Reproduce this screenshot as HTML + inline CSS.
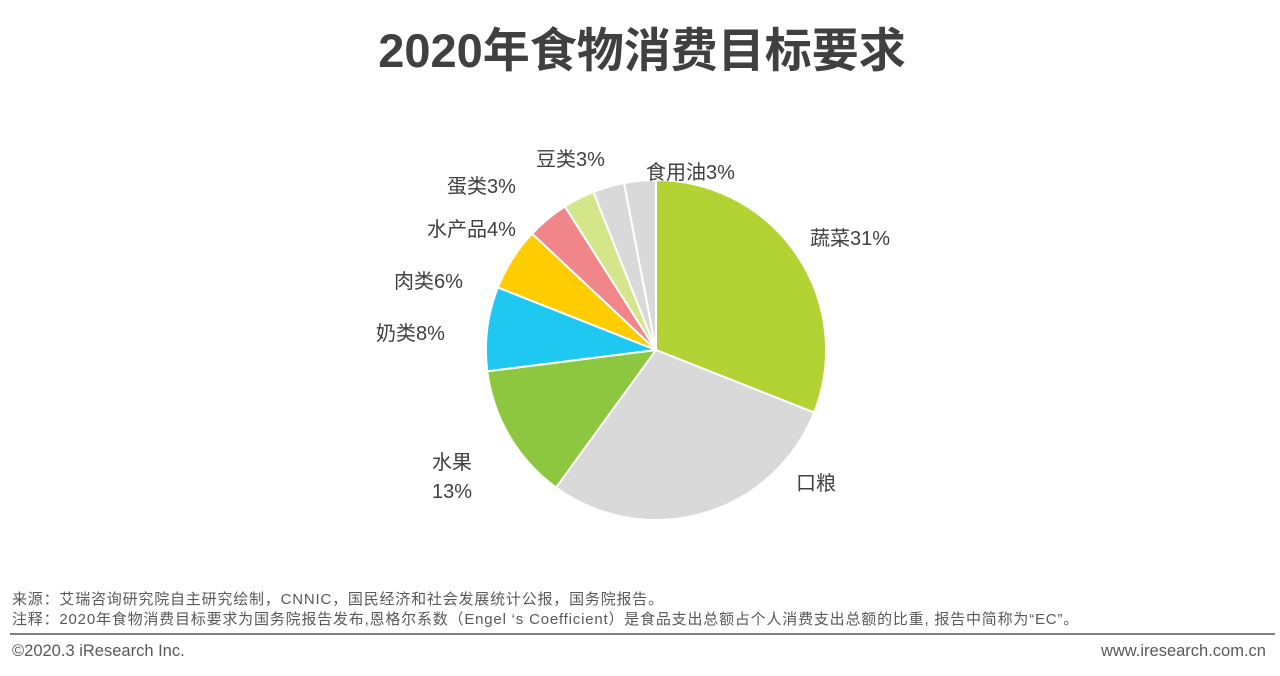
<!DOCTYPE html>
<html><head><meta charset="utf-8"><style>
body{margin:0;width:1280px;height:676px;background:#fff;position:relative;overflow:hidden;font-family:"Liberation Sans","Noto Sans CJK SC",sans-serif;}
.t{position:absolute;white-space:nowrap;}
.lb{font-size:20px;color:#404040;}
.ft{font-size:15px;color:#595959;letter-spacing:0.8px;}
.fb{font-size:16.5px;color:#595959;}
</style></head><body>
<div class="t" style="left:0;width:1284px;text-align:center;top:12px;font-size:47px;font-weight:bold;color:#404040;">2020年食物消费目标要求</div>
<svg width="1280" height="676" style="position:absolute;left:0;top:0" stroke="#fff" stroke-width="2" stroke-linejoin="round">
<path d="M656,350 L656,180 A170,170 0 0 1 814.1,412.6 Z" fill="#b3d334"/>
<path d="M656,350 L814.1,412.6 A170,170 0 0 1 556.1,487.5 Z" fill="#d9d9d9"/>
<path d="M656,350 L556.1,487.5 A170,170 0 0 1 487.3,371.3 Z" fill="#8dc63f"/>
<path d="M656,350 L487.3,371.3 A170,170 0 0 1 497.9,287.4 Z" fill="#1fc8f0"/>
<path d="M656,350 L497.9,287.4 A170,170 0 0 1 532.1,233.6 Z" fill="#ffcc00"/>
<path d="M656,350 L532.1,233.6 A170,170 0 0 1 564.9,206.5 Z" fill="#f0868a"/>
<path d="M656,350 L564.9,206.5 A170,170 0 0 1 593.4,191.9 Z" fill="#d4e68a"/>
<path d="M656,350 L593.4,191.9 A170,170 0 0 1 624.1,183.0 Z" fill="#d9d9d9"/>
<path d="M656,350 L624.1,183.0 A170,170 0 0 1 656,180 Z" fill="#d9d9d9"/>
<line x1="10" y1="634" x2="1275" y2="634" stroke="#7f7f7f" stroke-width="2"/>
</svg>
<div class="t lb" style="left:810px;top:222px;">蔬菜31%</div>
<div class="t lb" style="left:796px;top:467px;">口粮</div>
<div class="t lb" style="left:432px;top:446px;">水果</div>
<div class="t lb" style="left:432px;top:481px;">13%</div>
<div class="t lb" style="left:376px;top:317px;">奶类8%</div>
<div class="t lb" style="left:394px;top:265px;">肉类6%</div>
<div class="t lb" style="left:427px;top:213px;">水产品4%</div>
<div class="t lb" style="left:447px;top:170px;">蛋类3%</div>
<div class="t lb" style="left:536px;top:143px;">豆类3%</div>
<div class="t lb" style="left:646px;top:156px;">食用油3%</div>
<div class="t ft" style="left:12px;top:588px;">来源：艾瑞咨询研究院自主研究绘制，CNNIC，国民经济和社会发展统计公报，国务院报告。</div>
<div class="t ft" style="left:12px;top:608px;">注释：2020年食物消费目标要求为国务院报告发布,恩格尔系数（Engel ‘s Coefficient）是食品支出总额占个人消费支出总额的比重, 报告中简称为“EC”。</div>
<div class="t fb" style="left:12px;top:642px;">©2020.3 iResearch Inc.</div>
<div class="t fb" style="right:14px;top:642px;">www.iresearch.com.cn</div>
</body></html>
